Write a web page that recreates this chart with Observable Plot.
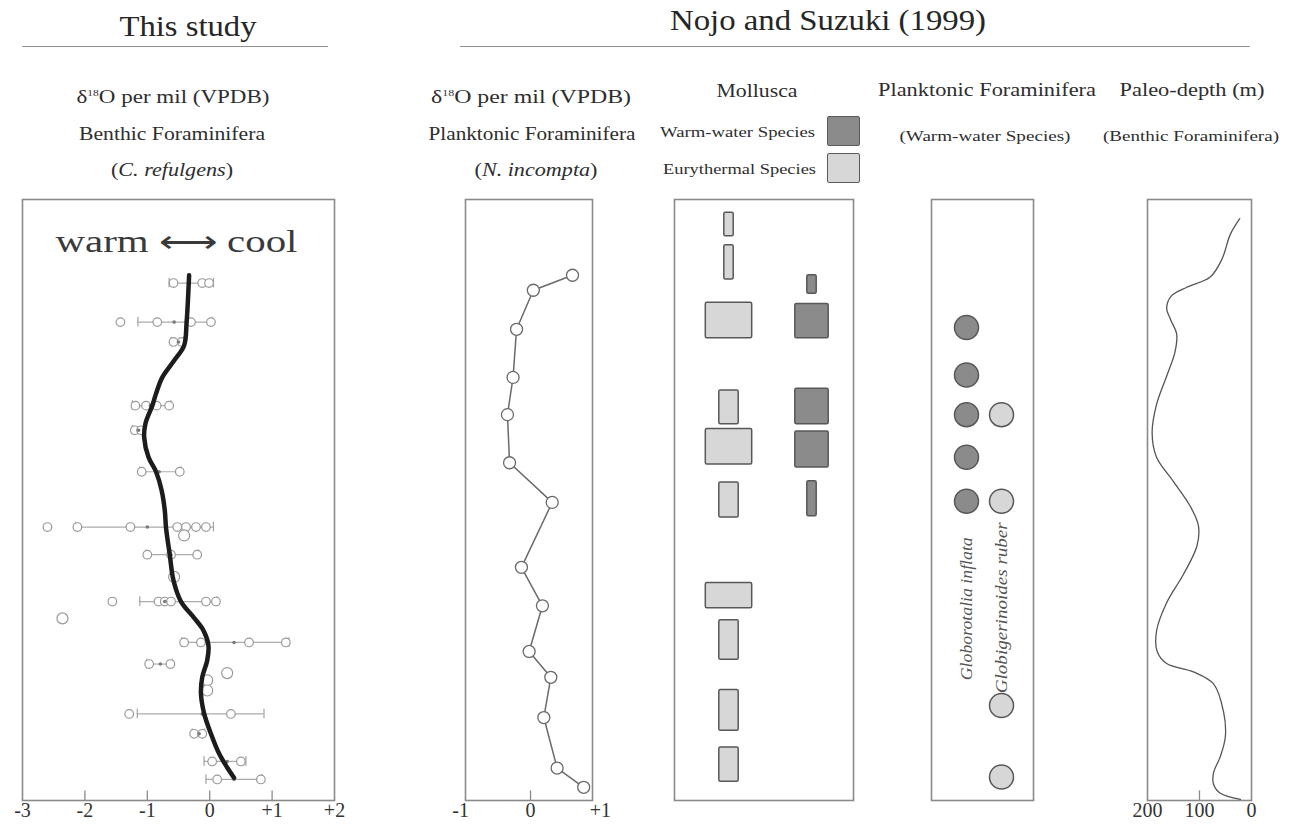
<!DOCTYPE html>
<html><head><meta charset="utf-8">
<script src="https://cdn.jsdelivr.net/npm/d3@7"></script>
<script src="https://cdn.jsdelivr.net/npm/@observablehq/plot@0.6"></script>
<style>
body{margin:0;background:#fff;}
#root{position:relative;width:1291px;height:826px;font-family:"Liberation Serif","Times New Roman",serif;color:#2e2e2e;overflow:hidden;background:#fff;}
#root svg{font-family:"Liberation Serif","Times New Roman",serif !important;font-size:20px !important;overflow:visible;}
#root svg text{font-family:"Liberation Serif","Times New Roman",serif !important;}
#root svg g[aria-label^="x-axis"], #root svg g[aria-label^="x-axis"] text{font-size:20px !important;fill:#333;}
.t{position:absolute;white-space:nowrap;line-height:1;}
.t sup{font-size:0.5em;vertical-align:0.8em;line-height:0;}
.p{position:absolute;top:190px;}
.rule{position:absolute;height:0;border-top:1.6px solid #8f8f8f;}
.box{position:absolute;box-sizing:border-box;border:1.6px solid #5a5a5a;border-radius:2px;}
</style></head><body><div id="root"></div>
<script>
// ---------- DATA (levels: relative stratigraphic position, 0 = top of section, 100 = base) ----------
// Panel 1: benthic foraminifera δ18O (C. refulgens), this study
const benthicLevel = [13.9, 20.4, 23.7, 34.3, 38.4, 45.3, 54.5, 59.1, 66.9, 73.7, 77.3, 85.6, 88.9, 93.5, 96.5];
const benthicMean  = [-0.33, -0.57, -0.50, -0.95, -1.14, -0.81, -1.00, -0.62, -0.72, 0.39, -0.79, -0.12, -0.17, 0.28, 0.39];
const benthicLow   = [-0.65, -1.15, -0.62, -1.24, -1.24, -1.12, -2.15, -1.02, -1.12, -0.45, -1.01, -1.16, -0.28, -0.09, -0.06];
const benthicHigh  = [0.06, 0.04, -0.42, -0.62, -1.05, -0.46, 0.06, -0.18, 0.12, 1.27, -0.60, 0.87, -0.08, 0.58, 0.84];
const benthicSamples = [
  [-0.58, -0.12, -0.01],
  [-1.43, -0.84, -0.30, 0.02],
  [-0.58, -0.45],
  [-1.19, -1.02, -0.85, -0.65],
  [-1.20, -1.10],
  [-1.09, -0.48],
  [-2.60, -2.12, -1.27, -0.52, -0.38, -0.22, -0.06],
  [-1.00, -0.62, -0.20],
  [-1.56, -0.82, -0.72, -0.62, -0.06, 0.10],
  [-0.41, -0.14, 0.63, 1.22],
  [-0.97, -0.63],
  [-1.29, 0.34],
  [-0.25, -0.12],
  [0.04, 0.50],
  [0.12, 0.82]
];
const benthicSingleLevel = [55.9, 62.8, 69.7, 78.8, 80.0, 81.7];
const benthicSingleValue = [-0.41, -0.57, -2.36, 0.28, -0.04, -0.04];
const benthicTrendLevel = [12.6, 20.4, 24.3, 26.8, 29.6, 32.3, 34.3, 37.3, 39.6, 42.9, 45.3, 48.4, 51.7, 54.6, 59.1, 63.4, 66.9, 69.6, 71.7, 74.2, 76.7, 79.5, 82.2, 85.5, 88.9, 92.2, 94.5, 96.2];
const benthicTrendValue = [-0.33, -0.37, -0.41, -0.57, -0.76, -0.86, -0.92, -1.03, -1.05, -0.98, -0.86, -0.77, -0.72, -0.70, -0.64, -0.58, -0.46, -0.25, -0.10, -0.02, -0.04, -0.12, -0.14, -0.09, 0.02, 0.15, 0.28, 0.39];

// Panel 2: planktonic foraminifera δ18O (N. incompta), Nojo and Suzuki (1999)
const planktonicLevel = [12.6, 15.1, 21.6, 29.6, 35.8, 43.8, 50.4, 61.2, 67.6, 75.2, 79.5, 86.2, 94.6, 97.8];
const planktonicValue = [0.60, 0.04, -0.20, -0.25, -0.33, -0.30, 0.31, -0.13, 0.17, -0.02, 0.29, 0.19, 0.38, 0.76];
const planktonicTicks = [-1, 0, 1];

// Panel 3: Mollusca occurrences (abundance class 1–4)
const molluscGroups = ["Eurythermal Species", "Warm-water Species"];
const molluscGroup  = ["Eurythermal Species","Eurythermal Species","Eurythermal Species","Eurythermal Species","Eurythermal Species","Eurythermal Species","Eurythermal Species","Eurythermal Species","Eurythermal Species","Eurythermal Species","Warm-water Species","Warm-water Species","Warm-water Species","Warm-water Species","Warm-water Species"];
const molluscTop    = [2.2, 7.6, 17.2, 31.8, 38.2, 47.1, 63.8, 70.0, 81.6, 91.2, 12.6, 17.4, 31.5, 38.6, 46.9];
const molluscBottom = [6.1, 13.3, 23.1, 37.4, 44.1, 52.9, 68.0, 76.6, 88.4, 96.9, 15.7, 23.1, 37.4, 44.6, 52.7];
const molluscAbund  = [1, 1, 4, 2, 4, 2, 4, 2, 2, 2, 1, 3, 3, 3, 1];

// Panel 4: planktonic foraminifera (warm-water species) occurrences
const foramSpeciesNames = ["Globorotalia inflata", "Globigerinoides ruber"];
const foramSpecies = ["Globorotalia inflata","Globorotalia inflata","Globorotalia inflata","Globorotalia inflata","Globorotalia inflata","Globigerinoides ruber","Globigerinoides ruber","Globigerinoides ruber","Globigerinoides ruber"];
const foramLevel   = [21.3, 29.2, 35.8, 42.9, 50.2, 35.8, 50.2, 84.2, 96.1];
const foramLabelLevel = [56.2, 53.7];

// Panel 5: paleo-depth (m) from benthic foraminifera
const depthLevel = [3.2, 5.8, 9.9, 12.9, 14.6, 16.0, 18.0, 20.0, 22.4, 25.4, 29.4, 34.1, 38.9, 42.9, 46.9, 51.0, 54.3, 57.7, 62.4, 67.1, 71.8, 75.2, 77.2, 78.6, 80.6, 85.3, 89.4, 92.7, 95.4, 97.3, 98.8, 99.8];
const depthValue = [22.6, 40.7, 56.7, 79.4, 124.5, 153.5, 163.2, 155.5, 143.9, 147.2, 163.2, 182.6, 191.1, 182.6, 150.4, 118.1, 102, 105.1, 131.1, 163.2, 182.6, 181.4, 163.2, 111.7, 73, 53.6, 50.3, 60, 73, 73, 60, 21.3];

// ---------- BUILD ----------
const root = document.getElementById("root");
const GRAY_FRAME = "#8a8a8a";
const DARK = "#8b8b8b", LIGHT = "#d7d7d7", EDGE = "#585858";

// text label; optional target width stretches the text horizontally like the original figure
function label(html, cx, baseline, fs, align = "center", targetWidth = null, extra = {}) {
  const d = document.createElement("div");
  d.className = "t";
  d.innerHTML = html;
  d.style.left = cx + "px";
  d.style.top = (baseline - 0.837 * fs) + "px";
  d.style.fontSize = fs + "px";
  Object.assign(d.style, extra);
  root.appendChild(d);
  const w = d.getBoundingClientRect().width;
  const s = targetWidth && w ? targetWidth / w : 1;
  if (align === "center") { d.style.transformOrigin = "50% 50%"; d.style.transform = `translateX(-50%) scaleX(${s})`; }
  else if (align === "right") { d.style.transformOrigin = "100% 50%"; d.style.transform = `translateX(-100%) scaleX(${s})`; }
  else { d.style.transformOrigin = "0 50%"; d.style.transform = `scaleX(${s})`; }
}
function hline(x1, x2, y) {
  const d = document.createElement("div");
  d.className = "rule";
  d.style.left = x1 + "px"; d.style.width = (x2 - x1) + "px"; d.style.top = y + "px";
  root.appendChild(d);
}
function box(x, y, w, h, fill) {
  const d = document.createElement("div");
  d.className = "box";
  Object.assign(d.style, {left: x + "px", top: y + "px", width: w + "px", height: h + "px", background: fill});
  root.appendChild(d);
}
function mount(svg, left) {
  const d = document.createElement("div");
  d.className = "p";
  d.style.left = left + "px";
  d.appendChild(svg);
  root.appendChild(d);
  return svg;
}
function stretchText(svg, content, length) {
  for (const t of svg.querySelectorAll("text")) {
    if (t.textContent === content) { t.setAttribute("textLength", length); t.setAttribute("lengthAdjust", "spacingAndGlyphs"); }
  }
}

// headers
label("This study", 188, 36, 30, "center", 137, {color: "#262626"});
hline(22, 328, 46);
label("Nojo and Suzuki (1999)", 828, 30, 30, "center", 316, {color: "#262626"});
hline(460, 1250, 46);

label("δ<sup>18</sup>O per mil (VPDB)", 173, 103, 18, "center", 193);
label("Benthic Foraminifera", 172, 140, 18, "center", 186);
label("(<i>C. refulgens</i>)", 172, 176, 18, "center", 122);

label("δ<sup>18</sup>O per mil (VPDB)", 531, 103, 18, "center", 200);
label("Planktonic Foraminifera", 532, 140, 18, "center", 207);
label("(<i>N. incompta</i>)", 536, 176, 18, "center", 123);

label("Mollusca", 757, 97, 19, "center", 81);
label("Warm-water Species", 815, 138, 15, "right", 155);
label("Eurythermal Species", 816, 175, 15, "right", 153);
box(827, 116, 33, 30, DARK);
box(827, 153, 33, 30, LIGHT);

label("Planktonic Foraminifera", 987, 96, 19, "center", 218);
label("(Warm-water Species)", 985, 142, 15, "center", 171);
label("Paleo-depth (m)", 1192, 96, 19, "center", 145);
label("(Benthic Foraminifera)", 1191, 142, 15, "center", 176);

// common scale/style
const Y = {domain: [0, 100], reverse: true, axis: null};
const style = "font-family: 'Liberation Serif', serif; font-size: 20px; color: #333; background: transparent; overflow: visible;";
const frame = () => Plot.frame({stroke: GRAY_FRAME, strokeWidth: 1.6});
const signFmt = d => d > 0 ? "+" + d : String(d);
const innerTicks = vals => Plot.ruleX(vals, {y1: 98.4, y2: 100, stroke: GRAY_FRAME, strokeWidth: 1.3});

// Panel 1
const benthicBars = benthicLevel.map((level, i) => ({level, mean: benthicMean[i], lo: benthicLow[i], hi: benthicHigh[i]}));
const benthicPoints = benthicLevel.flatMap((level, i) => benthicSamples[i].map(value => ({level, value})));
const benthicSingles = benthicSingleLevel.map((level, i) => ({level, value: benthicSingleValue[i]}));
const benthicTrend = benthicTrendLevel.map((level, i) => ({level, value: benthicTrendValue[i]}));

const p1 = mount(Plot.plot({
  width: 350, height: 636, marginLeft: 22, marginRight: 16, marginTop: 9, marginBottom: 26,
  style,
  x: {domain: [-3, 2], ticks: 5, tickSize: 0, tickPadding: 2, tickFormat: signFmt, label: null},
  y: Y,
  marks: [
    frame(),
    innerTicks([-2, -1, 0, 1]),
    Plot.ruleY(benthicBars, {y: "level", x1: "lo", x2: "hi", stroke: "#ababab", strokeWidth: 1.2}),
    Plot.ruleX(benthicBars, {x: "lo", y1: d => d.level - 0.8, y2: d => d.level + 0.8, stroke: "#a0a0a0", strokeWidth: 1.2}),
    Plot.ruleX(benthicBars, {x: "hi", y1: d => d.level - 0.8, y2: d => d.level + 0.8, stroke: "#a0a0a0", strokeWidth: 1.2}),
    Plot.dot(benthicPoints, {x: "value", y: "level", r: 4.3, stroke: "#9a9a9a", fill: "white", strokeWidth: 1.2}),
    Plot.dot(benthicSingles, {x: "value", y: "level", r: 5.5, stroke: "#9a9a9a", fill: "white", strokeWidth: 1.2}),
    Plot.dot(benthicBars, {x: "mean", y: "level", r: 1.8, fill: "#7a7a7a"}),
    Plot.line(benthicTrend, {x: "value", y: "level", curve: "catmull-rom", stroke: "#1c1c1c", strokeWidth: 4.5, strokeLinecap: "round"}),
    Plot.text(["warm ⟷ cool"], {text: d => d, frameAnchor: "top", dx: -2, dy: 30, fontSize: 31, fill: "#3a3a3a"})
  ]
}), 0);
stretchText(p1, "warm ⟷ cool", 242);

// Panel 2 (frame spans the sampled range; ticks at -1, 0, +1)
const planktonic = planktonicLevel.map((level, i) => ({level, value: planktonicValue[i]}));
mount(Plot.plot({
  width: 180, height: 636, marginLeft: 25, marginRight: 28, marginTop: 9, marginBottom: 26,
  style,
  x: {domain: [-0.93, 0.886], ticks: planktonicTicks, tickSize: 0, tickPadding: 2, tickFormat: signFmt, label: null},
  y: Y,
  marks: [
    frame(),
    innerTicks([0]),
    Plot.line(planktonic, {x: "value", y: "level", stroke: "#6a6a6a", strokeWidth: 1.5}),
    Plot.dot(planktonic, {x: "value", y: "level", r: 6, fill: "white", stroke: "#6a6a6a", strokeWidth: 1.3})
  ]
}), 440);

// Panel 3
const mollusca = molluscGroup.map((group, i) => ({group, top: molluscTop[i], bottom: molluscBottom[i], abund: molluscAbund[i]}));
const widthByClass = {1: 10, 2: 20, 3: 34, 4: 47};
const molluscPadOuter = 0.0705;
const molluscBand = 179 / (2 + 2 * molluscPadOuter);
const molluscMarks = [];
for (const g of molluscGroups) {
  for (const k of [1, 2, 3, 4]) {
    const sub = mollusca.filter(d => d.group === g && d.abund === k);
    if (!sub.length) continue;
    const inset = (molluscBand - widthByClass[k]) / 2;
    molluscMarks.push(Plot.barY(sub, {x: "group", y1: "top", y2: "bottom", insetLeft: inset, insetRight: inset,
      fill: g === "Warm-water Species" ? DARK : LIGHT, stroke: EDGE, strokeWidth: 1.5, rx: 1.5}));
  }
}
mount(Plot.plot({
  width: 200, height: 636, marginLeft: 10, marginRight: 11, marginTop: 9, marginBottom: 26,
  style,
  x: {type: "band", domain: molluscGroups, paddingInner: 0, paddingOuter: molluscPadOuter, align: 1, axis: null},
  y: Y,
  marks: [frame(), ...molluscMarks]
}), 664);

// Panel 4
const foram = foramSpecies.map((species, i) => ({species, level: foramLevel[i]}));
const foramLabels = foramSpeciesNames.map((species, i) => ({species, level: foramLabelLevel[i]}));
const p4 = mount(Plot.plot({
  width: 124, height: 636, marginLeft: 10, marginRight: 12, marginTop: 9, marginBottom: 26,
  style,
  x: {type: "point", domain: foramSpeciesNames, padding: 0.9167, align: 0.515, axis: null},
  y: Y,
  marks: [
    frame(),
    Plot.dot(foram.filter(d => d.species === "Globorotalia inflata"), {x: "species", y: "level", r: 12, fill: DARK, stroke: EDGE, strokeWidth: 1.5}),
    Plot.dot(foram.filter(d => d.species === "Globigerinoides ruber"), {x: "species", y: "level", r: 12, fill: LIGHT, stroke: EDGE, strokeWidth: 1.5}),
    Plot.text(foramLabels, {x: "species", y: "level", text: "species", rotate: -90, textAnchor: "end", fontStyle: "italic", fontSize: 17.5, fill: "#555"})
  ]
}), 921);
stretchText(p4, "Globorotalia inflata", 143);
stretchText(p4, "Globigerinoides ruber", 171);

// Panel 5
const depth = depthLevel.map((level, i) => ({level, value: depthValue[i]}));
mount(Plot.plot({
  width: 140, height: 636, marginLeft: 17, marginRight: 19, marginTop: 9, marginBottom: 26,
  style,
  x: {domain: [200, 0], ticks: 2, tickSize: 0, tickPadding: 2, label: null},
  y: Y,
  marks: [
    frame(),
    innerTicks([100]),
    Plot.line(depth, {x: "value", y: "level", curve: "catmull-rom", stroke: "#555", strokeWidth: 1.3})
  ]
}), 1130);
</script></body></html>
